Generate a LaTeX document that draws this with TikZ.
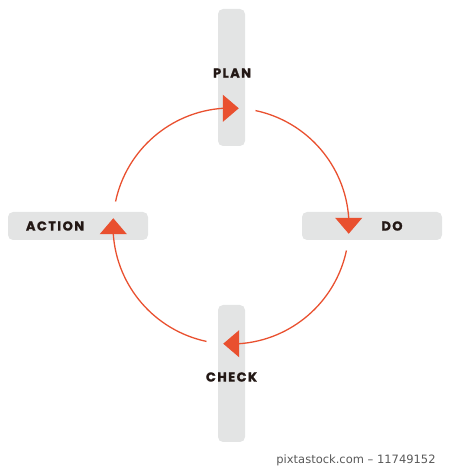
\documentclass[tikz,border=0pt]{standalone}
\usepackage{fontspec}
\usetikzlibrary{arrows.meta}
\newfontfamily\stagefont[LetterSpace=11, BoldFeatures={FakeBold=1.2}]{Poppins}
\newfontfamily\markfont{DejaVu Sans}
\definecolor{cyclered}{HTML}{E9502F}
\definecolor{bargray}{HTML}{E3E4E4}
\definecolor{stagetext}{HTML}{231815}
\newcommand{\cycleradius}{118}

\begin{document}
\begin{tikzpicture}[x=1pt,y=1pt]
\useasboundingbox (0,0) rectangle (450,469);
\tikzstyle{vbar}=[fill=bargray, rounded corners=5pt, inner sep=0pt,
			minimum width=27pt, minimum height=137pt]
\tikzstyle{hbar}=[fill=bargray, rounded corners=5pt, inner sep=0pt,
			minimum width=140pt, minimum height=28pt]
\tikzstyle{stage}=[font=\stagefont\bfseries\fontsize{13}{13}\selectfont,
			text=stagetext, inner sep=0pt]
\tikzstyle{cyclearrow}=[cyclered, line width=1.3pt,
			-{Triangle[width=27pt,length=16pt]}]


\node[vbar] (planbar) at (231.5,391.5) {};

\node[hbar] (dobar) at (372,243) {};

\node[vbar] (checkbar) at (231.5,95.5) {};

\node[hbar] (actionbar) at (78,243) {};


\node[stage] (plan) at (232,396) {PLAN};

\node[stage] (do) at (392,243) {DO};

\node[stage] (check) at (231.5,92) {CHECK};

\node[stage] (action) at (55,243) {ACTION};


\coordinate (c) at (231,243);

\draw[cyclearrow] ([shift={(168:\cycleradius)}]c) arc[start angle=168, end angle=94, radius=\cycleradius] -- ++(16,0);

\draw[cyclearrow] ([shift={(78:\cycleradius)}]c) arc[start angle=78, end angle=4, radius=\cycleradius] -- ++(0,-16);

\draw[cyclearrow] ([shift={(-12:\cycleradius)}]c) arc[start angle=-12, end angle=-86, radius=\cycleradius] -- ++(-16,0);

\draw[cyclearrow] ([shift={(-102:\cycleradius)}]c) arc[start angle=-102, end angle=-176, radius=\cycleradius] -- ++(0,16);


\node[font=\markfont\fontsize{11.5}{11.5}\selectfont, text=black!65] (stockmark) at (356,9) {pixtastock.com – 11749152};

\end{tikzpicture}
\end{document}
